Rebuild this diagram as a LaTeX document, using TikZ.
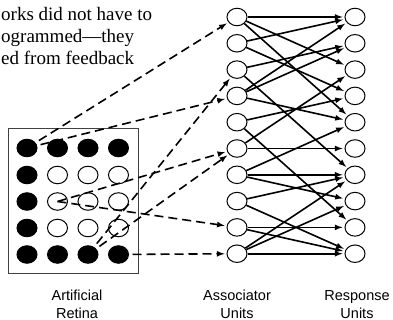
\documentclass[tikz,border=0pt]{standalone}
\usepackage{fontspec}
\setmainfont{Liberation Serif}
\newfontfamily\labelsans{Liberation Sans}
\usetikzlibrary{shapes.geometric}
\begin{document}
\begin{tikzpicture}[x=1pt, y=-1pt,
  unit/.style={ellipse, draw, line width=1pt, fill=white, minimum width=20pt, minimum height=17.5pt, inner sep=0pt},
  dark/.style={unit, fill=black},
  wire/.style={-latex, line width=1.6pt, shorten >=2pt},
  link/.style={-latex, line width=1.6pt, dash pattern=on 9pt off 5pt, shorten >=2pt},
  lbl/.style={font=\labelsans\fontsize{14.5}{18}\selectfont, anchor=base, inner sep=0pt}]

\useasboundingbox (0,0) rectangle (393,320);

\node (blurb) [anchor=north west, align=left, inner sep=0pt, font=\fontsize{19}{22}\selectfont] at (1,7.5) {orks did not have to\\ogrammed—they\\ed from feedback};

% retina
\draw [line width=1pt, black!75] (8,129) rectangle (138,273);

\draw (27,148) node (d11) [dark] {};
\draw (57.5,148) node (d12) [dark] {};
\draw (88,148) node (d13) [dark] {};
\draw (118.5,148) node (d14) [dark] {};

\draw (27,175) node (d21) [dark] {};
\draw (57.5,175) node (d22) [unit] {};
\draw (88,175) node (d23) [unit] {};
\draw (118.5,175) node (d24) [unit] {};

\draw (27,201.5) node (d31) [dark] {};
\draw (57.5,201.5) node (d32) [unit] {};
\draw (88,201.5) node (d33) [unit] {};
\draw (118.5,201.5) node (d34) [unit] {};

\draw (27,228) node (d41) [dark] {};
\draw (57.5,228) node (d42) [unit] {};
\draw (88,228) node (d43) [unit] {};
\draw (118.5,228) node (d44) [unit] {};

\draw (27,254.5) node (d51) [dark] {};
\draw (57.5,254.5) node (d52) [dark] {};
\draw (88,254.5) node (d53) [dark] {};
\draw (118.5,254.5) node (d54) [dark] {};

% associator units
\draw (237,17) node (a1) [unit] {};
\draw (237,43.3) node (a2) [unit] {};
\draw (237,69.6) node (a3) [unit] {};
\draw (237,95.9) node (a4) [unit] {};
\draw (237,122.2) node (a5) [unit] {};
\draw (237,148.5) node (a6) [unit] {};
\draw (237,174.8) node (a7) [unit] {};
\draw (237,201.1) node (a8) [unit] {};
\draw (237,227.4) node (a9) [unit] {};
\draw (237,253.7) node (a10) [unit] {};

% response units
\draw (355,17) node (r1) [unit] {};
\draw (355,43.3) node (r2) [unit] {};
\draw (355,69.6) node (r3) [unit] {};
\draw (355,95.9) node (r4) [unit] {};
\draw (355,122.2) node (r5) [unit] {};
\draw (355,148.5) node (r6) [unit] {};
\draw (355,174.8) node (r7) [unit] {};
\draw (355,201.1) node (r8) [unit] {};
\draw (355,227.4) node (r9) [unit] {};
\draw (355,253.7) node (r10) [unit] {};

% retina to associators
\draw [link] (d11.center) -- (a1);
\draw [link] (d11.center) -- (a4);
\draw [link] (d53.center) -- (a3);
\draw [link] (d53.center) -- (a6);
\draw [link] (d32.center) -- (a6);
\draw [link] (d32.center) -- (a9);
\draw [link] (d54.center) -- (a10);

% associators to responses
\draw [wire] (a1) -- (r1);
\draw [wire] (a1) -- (r3);
\draw [wire] (a1) -- (r5);
\draw [wire] (a2) -- (r1);
\draw [wire] (a2) -- (r4);
\draw [wire] (a3) -- (r2);
\draw [wire] (a3) -- (r7);
\draw [wire] (a4) -- (r1);
\draw [wire] (a4) -- (r2);
\draw [wire] (a4) -- (r5);
\draw [wire] (a5) -- (r4);
\draw [wire] (a5) -- (r9);
\draw [wire] (a6) -- (r6);
\draw [wire] (a6) -- (r3);
\draw [wire] (a7) -- (r7);
\draw [wire] (a7) -- (r8);
\draw [wire] (a7) -- (r5);
\draw [wire] (a8) -- (r7);
\draw [wire] (a8) -- (r10);
\draw [wire] (a9) -- (r9);
\draw [wire] (a9) -- (r10);
\draw [wire] (a10) -- (r10);
\draw [wire] (a10) -- (r7);
\draw [wire] (a10) -- (r8);

\node (retlbl) [lbl] at (77,300) {Artificial};
\node (retlbl2) [lbl] at (77,318) {Retina};
\node (asslbl) [lbl] at (237,300) {Associator};
\node (asslbl2) [lbl] at (237,318) {Units};
\node (reslbl) [lbl] at (357,300) {Response};
\node (reslbl2) [lbl] at (357,318) {Units};

\end{tikzpicture}
\end{document}
